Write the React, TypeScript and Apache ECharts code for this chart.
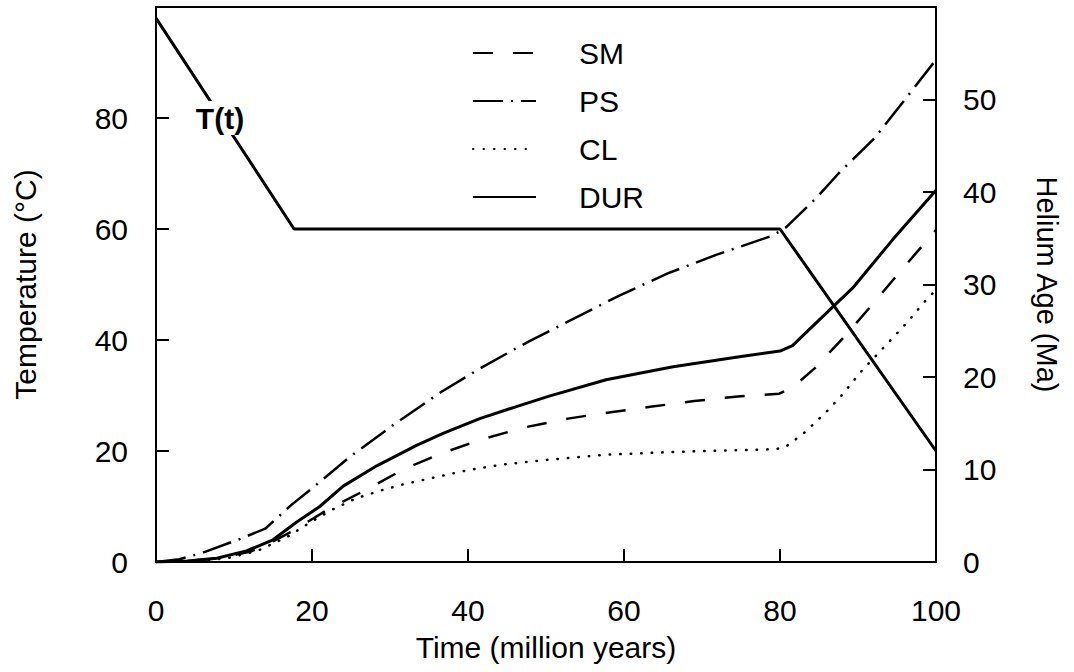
import React, { useEffect, useRef } from "react";
import * as echarts from "echarts";

// Temperature history T(t) (left axis, °C)
const tempTime = [0, 17.7, 80, 100];
const tempValue = [98, 60, 60, 20];

// Helium ages (right axis, Ma)
const smTime = [0, 4, 8, 12, 13.6, 17.4, 22.3, 27.6, 31.9, 36.8, 41.9, 47.5, 52.8, 58.3, 63.6, 69, 74.6, 79.9, 81.5, 84.4, 88.3, 91.8, 95.3, 100];
const smAge = [0, 0.1, 0.4, 1.1, 1.6, 3.3, 5.8, 8.1, 10.1, 11.8, 13.3, 14.6, 15.5, 16.2, 16.8, 17.4, 17.9, 18.2, 18.8, 20.9, 24.4, 27.8, 31.3, 35.9];

const psTime = [0, 3, 6, 10.8, 14, 17.4, 20.2, 24.9, 30.4, 36.6, 41.9, 47.7, 50.5, 59.4, 65.6, 71.8, 79.1, 80.8, 84.6, 87.5, 92.1, 96.4, 100];
const psAge = [0, 0.3, 1.0, 2.5, 3.6, 6.2, 8.1, 11.4, 14.8, 18.4, 21.1, 23.8, 25.0, 28.8, 31.2, 33.2, 35.3, 36.2, 39.3, 42.0, 45.8, 50.4, 54.3];

const clTime = [0, 5, 9.1, 13, 16.8, 19.8, 22.7, 25.7, 29.1, 31.7, 35.5, 39.8, 44.1, 49.6, 57.7, 66.3, 74.8, 79.5, 80.8, 83.3, 85.9, 87.8, 90.4, 93.2, 96.2, 98.7, 100];
const clAge = [0, 0.1, 0.4, 1.2, 2.7, 4.3, 5.7, 6.9, 7.8, 8.4, 9.1, 9.9, 10.5, 11.0, 11.6, 11.9, 12.1, 12.2, 12.5, 14.1, 16.2, 17.9, 20.6, 23.1, 25.8, 28.3, 29.4];

const durTime = [0, 4, 7.8, 11.6, 15, 18, 21, 24, 28.3, 33.4, 36.8, 41.5, 46.2, 50.3, 57.7, 66.3, 74.8, 80, 81.6, 86.8, 89.3, 94.4, 100];
const durAge = [0, 0.1, 0.4, 1.2, 2.4, 4.3, 6.0, 8.2, 10.4, 12.6, 13.9, 15.5, 16.8, 17.9, 19.7, 21.1, 22.2, 22.8, 23.4, 27.6, 29.6, 34.8, 40.2];

const xTicks = { min: 0, max: 100, interval: 20 };
const tempTicks = { min: 0, max: 100, interval: 20 };
const ageTicks = { min: 0, max: 60, interval: 10 };

const legendNames = ["SM", "PS", "CL", "DUR"];

const pairs = (xs: number[], ys: number[]) => xs.map((x, i) => [x, ys[i]]);

const FONT = "'Liberation Sans', Arial, Helvetica, sans-serif";

export default function App() {
  const ref = useRef<HTMLDivElement>(null);
  useEffect(() => {
    if (!ref.current) return;
    const chart = echarts.init(ref.current, undefined, { renderer: "svg" });
    const axisLine = { show: true, lineStyle: { color: "#000", width: 2 } };
    const axisTick = { show: true, inside: true, length: 13, lineStyle: { color: "#000", width: 2 } };
    const label = { color: "#000", fontSize: 30, fontFamily: FONT };
    chart.setOption({
      animation: false,
      backgroundColor: "#fff",
      textStyle: { fontFamily: FONT },
      grid: { left: 156, right: 138, top: 7, bottom: 110, show: true, borderColor: "#000", borderWidth: 2 },
      legend: {
        data: legendNames,
        orient: "vertical",
        left: 467,
        top: 33,
        itemWidth: 63,
        itemHeight: 10,
        itemGap: 18,
        selectedMode: false,
        itemStyle: { opacity: 0 },
        textStyle: { color: "#000", fontSize: 30, fontFamily: FONT, padding: [0, 0, 0, 38] },
      },
      xAxis: {
        type: "value",
        ...xTicks,
        axisLine,
        axisTick,
        splitLine: { show: false },
        axisLabel: { ...label, margin: 33 },
        name: "Time (million years)",
        nameLocation: "middle",
        nameGap: 70,
        nameTextStyle: { ...label, fontSize: 30 },
      },
      yAxis: [
        {
          type: "value",
          ...tempTicks,
          position: "left",
          axisLine,
          axisTick,
          splitLine: { show: false },
          axisLabel: { ...label, margin: 28, showMaxLabel: false },
          name: "Temperature (°C)",
          nameLocation: "middle",
          nameGap: 116,
          nameTextStyle: { ...label, fontSize: 30 },
        },
        {
          type: "value",
          ...ageTicks,
          position: "right",
          alignTicks: false,
          axisLine,
          axisTick,
          splitLine: { show: false },
          axisLabel: { ...label, margin: 27, showMaxLabel: false },
          name: "Helium Age (Ma)",
          nameLocation: "middle",
          nameRotate: -90,
          nameGap: 96,
          nameTextStyle: { ...label, fontSize: 29 },
        },
      ],
      series: [
        {
          name: "T(t)",
          type: "line",
          yAxisIndex: 0,
          data: pairs(tempTime, tempValue),
          symbol: "none",
          lineStyle: { color: "#000", width: 3 },
          z: 2,
          markPoint: {
            symbol: "circle",
            symbolSize: 0,
            silent: true,
            data: [
              {
                coord: [8.2, 80],
                label: {
                  show: true,
                  position: "inside",
                  formatter: "T(t)",
                  color: "#000",
                  fontSize: 30,
                  fontWeight: "bold",
                  fontFamily: FONT,
                  backgroundColor: "#fff",
                  padding: [2, 2],
                },
              },
            ],
          },
        },
        {
          name: "SM",
          type: "line",
          yAxisIndex: 1,
          data: pairs(smTime, smAge),
          symbol: "none",
          itemStyle: { color: "#000" },
          lineStyle: { color: "#000", width: 2.5, type: [20, 20] },
        },
        {
          name: "PS",
          type: "line",
          yAxisIndex: 1,
          data: pairs(psTime, psAge),
          symbol: "none",
          itemStyle: { color: "#000" },
          lineStyle: { color: "#000", width: 2.5, type: [30, 8, 2, 8] },
        },
        {
          name: "CL",
          type: "line",
          yAxisIndex: 1,
          data: pairs(clTime, clAge),
          symbol: "none",
          itemStyle: { color: "#000" },
          lineStyle: { color: "#000", width: 2.5, type: [0.5, 10], cap: "round" },
        },
        {
          name: "DUR",
          type: "line",
          yAxisIndex: 1,
          data: pairs(durTime, durAge),
          symbol: "none",
          itemStyle: { color: "#000" },
          lineStyle: { color: "#000", width: 3 },
        },
      ],
    });
    return () => chart.dispose();
  }, []);
  return (
    <div
      ref={ref}
      style={{ position: "absolute", left: 0, top: 0, width: 1074, height: 672, background: "#fff" }}
    />
  );
}
